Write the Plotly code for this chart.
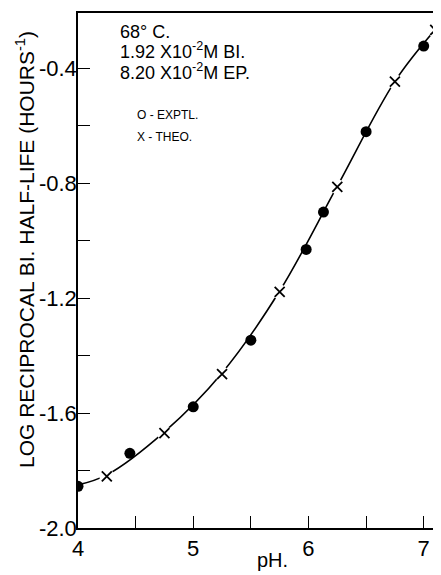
import plotly.graph_objects as go

# Data
exp_ph = [4.0, 4.45, 5.0, 5.5, 5.98, 6.13, 6.5, 7.0]
exp_log = [-1.855, -1.74, -1.578, -1.346, -1.03, -0.90, -0.62, -0.322]

theo_ph = [4.25, 4.75, 5.25, 5.75, 6.25, 6.75, 7.1]
theo_log = [-1.82, -1.67, -1.464, -1.178, -0.812, -0.446, -0.266]

curve_ph = [4.0, 4.25, 4.75, 5.25, 5.75, 6.25, 6.75, 7.1]
curve_log = [-1.85, -1.815, -1.665, -1.46, -1.175, -0.81, -0.445, -0.265]

x_tick_vals = [4, 5, 6, 7]
x_tick_text = ["4", "5", "6", "7"]
y_tick_vals = [-2.0, -1.6, -1.2, -0.8, -0.4]
y_tick_text = ["-2.0", "-1.6", "-1.2", "-0.8", "-0.4"]

FONT = "Liberation Sans"
OFF = 8  # default page body margin
W, H = 441 - OFF, 575 - OFF
L, R, T = 78 - OFF, 0, 13 - OFF
B = H - (528 - OFF)
PW, PH = W - L - R, H - T - B

def px(xp):  # page pixel -> paper x
    return (xp - OFF - L) / PW

def py(yp):  # page pixel -> paper y
    return (H - B - (yp - OFF)) / PH

fig = go.Figure()
fig.add_trace(go.Scatter(x=curve_ph, y=curve_log, mode="lines",
                         line=dict(color="black", width=1.6, shape="spline", smoothing=1.0),
                         hoverinfo="skip", showlegend=False))
# white halos to break the line around the crosses
fig.add_trace(go.Scatter(x=theo_ph, y=theo_log, mode="markers",
                         marker=dict(symbol="circle", size=15, color="white"),
                         hoverinfo="skip", showlegend=False))
fig.add_trace(go.Scatter(x=theo_ph, y=theo_log, mode="markers",
                         marker=dict(symbol="x-thin", size=10, line=dict(color="black", width=1.8)),
                         showlegend=False))
fig.add_trace(go.Scatter(x=exp_ph, y=exp_log, mode="markers",
                         marker=dict(symbol="circle", size=11, color="black"),
                         showlegend=False))

fig.update_layout(
    width=W, height=H,
    margin=dict(l=L, r=R, t=T, b=B, autoexpand=False),
    paper_bgcolor="white", plot_bgcolor="white",
    font=dict(family=FONT, color="black"),
    showlegend=False,
)
fig.update_xaxes(
    range=[4.0, 7.15], showgrid=False, zeroline=False, automargin=False,
    showline=True, linecolor="black", linewidth=1.6, mirror=True,
    tickmode="array", tickvals=x_tick_vals, ticktext=x_tick_text,
    ticks="inside", ticklen=12, tickwidth=1.4, tickcolor="black",
    minor=dict(dtick=0.5, tick0=4, ticks="inside", ticklen=12, tickwidth=1.4, tickcolor="black"),
    tickfont=dict(size=22, family=FONT), ticklabelstandoff=0,
)
fig.update_yaxes(
    range=[-2.0, -0.207], showgrid=False, zeroline=False, automargin=False,
    showline=True, linecolor="black", linewidth=1.6,
    tickmode="array", tickvals=y_tick_vals, ticktext=y_tick_text,
    ticks="inside", ticklen=12, tickwidth=1.4, tickcolor="black",
    minor=dict(dtick=0.2, tick0=-2.0, ticks="inside", ticklen=12, tickwidth=1.4, tickcolor="black"),
    tickfont=dict(size=22, family=FONT), ticklabelstandoff=-5,
)

fig.add_annotation(text="LOG RECIPROCAL BI. HALF-LIFE (HOURS<sup>-1</sup>)",
                   xref="paper", yref="paper", x=px(25), y=py(250),
                   xanchor="center", yanchor="middle", textangle=-90,
                   showarrow=False, font=dict(size=21))
fig.add_annotation(text="pH.", xref="paper", yref="paper", x=px(272), y=py(573),
                   xanchor="center", yanchor="bottom", showarrow=False, font=dict(size=20))

text_lines = [
    ("68° C.", 32, 18),
    ("1.92 X10<sup>-2</sup>M BI.", 50, 18),
    ("8.20 X10<sup>-2</sup>M EP.", 71, 18),
    ("O - EXPTL.", 115, 12),
    ("X - THEO.", 137, 12),
]
for txt, ypx, fs in text_lines:
    xl = 118 if fs > 14 else 135
    fig.add_annotation(text=txt, xref="paper", yref="paper",
                       x=px(xl), y=py(ypx), xanchor="left", yanchor="middle",
                       showarrow=False, font=dict(size=fs))

fig.write_html("out.html")
